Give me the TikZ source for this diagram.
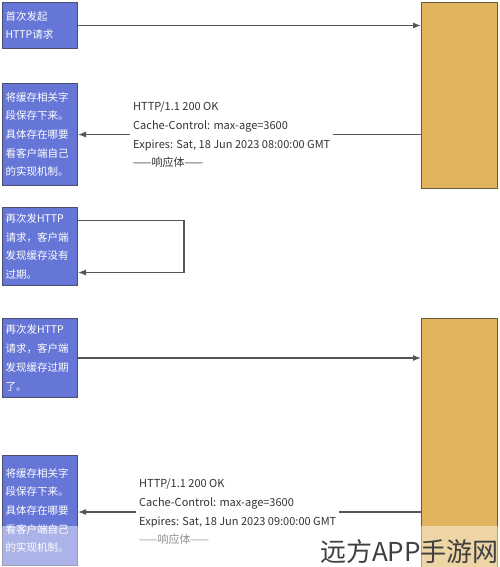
\documentclass[tikz,border=0pt]{standalone}
\usepackage{fontspec}
\setmainfont{Noto Sans CJK SC}
\usetikzlibrary{arrows.meta}
\definecolor{boxblue}{HTML}{6676D6}
\definecolor{boxedge}{HTML}{4A4F72}
\definecolor{srvyellow}{HTML}{E0B45C}
\definecolor{srvedge}{HTML}{6B5A3A}
\definecolor{linegrey}{HTML}{555555}
\begin{document}
\begin{tikzpicture}
  [x=1pt,y=-1pt,
   client/.style={rectangle,draw=boxedge,line width=1pt,fill=boxblue,text=white,
     anchor=north west,minimum width=75pt,text width=69pt,inner xsep=3pt,align=left,
     font=\fontsize{10.5}{18.7}\selectfont},
   server/.style={rectangle,draw=srvedge,line width=1pt,fill=srvyellow,anchor=north west,
     minimum width=76pt},
   resp/.style={fill=white,anchor=west,inner sep=3pt,align=left,text=black!80,
     font=\fontsize{11}{18.7}\selectfont},
   arr/.style={draw=linegrey,line width=1.1pt,-{Latex[length=8pt,width=6pt]}}]
  \useasboundingbox (0,0) rectangle (500,567);

  \node[client,minimum height=46pt] (b1) at (2,2) {首次发起\\HTTP请求};
  \node[client,minimum height=102pt] (b2) at (2,83) {将缓存相关字\\段保存下来。\\具体存在哪要\\看客户端自己\\的实现机制。};
  \node[client,minimum height=78pt] (b3) at (2,207) {再次发HTTP\\请求，客户端\\发现缓存没有\\过期。};
  \node[client,minimum height=79pt] (b4) at (2,318) {再次发HTTP\\请求，客户端\\发现缓存过期\\了。};
  \node[client,minimum height=110pt] (b5) at (2,455) {将缓存相关字\\段保存下来。\\具体存在哪要\\看客户端自己\\的实现机制。};

  \node[server,minimum height=186pt] (y1) at (421,2) {};
  \node[server,minimum height=250pt] (y2) at (421,318) {};

  % requests
  \draw[arr] (b1) -- (b1 -| y1.west);
  \draw[arr] (b4) -- (b4 -| y2.west);
  % cache still fresh
  \draw[arr] ([yshift=26pt]b3.east) -- ++(106,0) |- ([yshift=-26pt]b3.east);
  % responses
  \draw[arr] (y1.west |- b2) -- (b2);
  \draw[arr] (y2.west |- 0,512) -- (b5.east |- 0,512);
  \node[resp] (r1) at (130,135) {HTTP/1.1 200 OK\\Cache-Control: max-age=3600\\Expires: Sat, 18 Jun 2023 08:00:00 GMT\\——响应体——};
  \node[resp] (r2) at (136,512) {HTTP/1.1 200 OK\\Cache-Control: max-age=3600\\Expires: Sat, 18 Jun 2023 09:00:00 GMT\\——响应体——};

  \fill[white,opacity=.45] (0,526) rectangle (500,567);
  \node[anchor=south east,inner sep=0pt,text=black!75,font=\fontsize{26}{26}\selectfont] (wm) at (499,564) {远方APP手游网};
\end{tikzpicture}
\end{document}
